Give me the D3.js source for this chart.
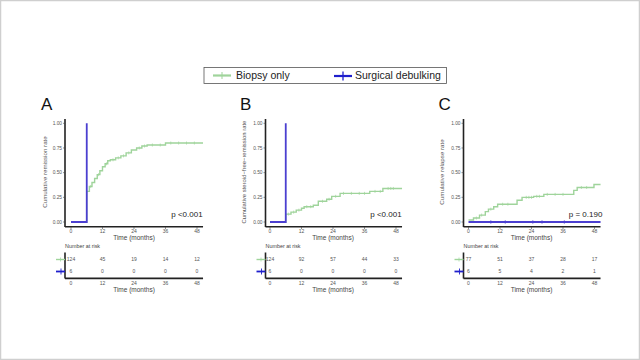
<!DOCTYPE html>
<html><head><meta charset="utf-8">
<script src="https://cdn.jsdelivr.net/npm/d3@7/dist/d3.min.js"></script>
<style>
html,body{margin:0;padding:0;background:#fff;}
svg{display:block;font-family:"Liberation Sans",Arial,sans-serif;}
</style></head><body>
<svg id="c" width="640" height="360"></svg>
<script>
// ---- data ----
const seriesNames = ["Biopsy only", "Surgical debulking"];
const panelLabels = ["A", "B", "C"];
const yTitles = ["Cumulative remission rate", "Cumulative steroid\u2212free\u2212remission rate", "Cumulative relapse rate"];
const pValues = ["p <0.001", "p <0.001", "p = 0.190"];
const xTicks = [0, 12, 24, 36, 48];
const yTicks = [0, 0.25, 0.5, 0.75, 1.0];

// green (biopsy) step curves: [time, value]
const biopsyA = [[0,0],[6,0.31],[7,0.36],[8,0.40],[9,0.44],[10,0.48],[11,0.52],[12,0.56],[13,0.59],[14,0.62],[15,0.63],[17,0.65],[19,0.67],[21,0.70],[23,0.73],[25,0.75],[27,0.77],[29,0.78],[36,0.80],[50.3,0.80]];
const biopsyB = [[0,0],[6,0.08],[8,0.10],[10,0.12],[12,0.14],[13,0.155],[16.5,0.17],[18.4,0.21],[21.6,0.23],[23.5,0.26],[26.7,0.29],[38,0.31],[43,0.34],[50.3,0.34]];
const biopsyC = [[0,0.02],[1.9,0.04],[4.2,0.07],[6.4,0.105],[7.6,0.13],[9.6,0.155],[11.1,0.18],[18.5,0.22],[20.4,0.25],[24.8,0.26],[28.7,0.28],[40.1,0.32],[41.4,0.35],[47.8,0.38],[50.3,0.38]];
// blue (surgical) step curves
const surgA = [[0,0],[6,1.0]];
const surgB = [[0,0],[6,1.0]];
const surgC = [[0,0],[50.3,0]];
// censor marks (times)
const censorBiopsyA = [7.5,10.5,13.5,16,18,20,22,26,28,31,34,38,41,44,47];
const censorBiopsyB = [7,9,11,14,15.5,20,22.5,25,28,31,34,36,40,42,45,46,47];
const censorBiopsyC = [3,5,8.5,13,15,22,23,24,26,27,30,33,36,43,45];
const censorSurgC = [8.5,14,24.5,28,36.5];
// numbers at risk
const riskBiopsy = [[124,45,19,14,12],[124,92,57,44,33],[77,51,37,28,17]];
const riskSurg = [[6,0,0,0,0],[6,0,0,0,0],[6,5,4,2,1]];

const biopsy = [biopsyA, biopsyB, biopsyC];
const surg = [surgA, surgB, surgC];
const censB = [censorBiopsyA, censorBiopsyB, censorBiopsyC];
const censS = [[], [], censorSurgC];

// ---- layout ----
const GREEN = "#9fd49b", BLUE = "#4b3fd0", BLUE2 = "#1f1fcc";
const svg = d3.select("#c");
svg.append("rect").attr("x",0.5).attr("y",0.5).attr("width",639).attr("height",359)
  .attr("fill","#fff").attr("stroke","#cfcfcf").attr("stroke-width",1.5);

// legend
const lg = svg.append("g");
lg.append("rect").attr("x",204).attr("y",67.5).attr("width",242.5).attr("height",16)
  .attr("fill","#fff").attr("stroke","#555").attr("stroke-width",0.8);
lg.append("line").attr("x1",213).attr("x2",231).attr("y1",75.5).attr("y2",75.5).attr("stroke",GREEN).attr("stroke-width",2.2);
lg.append("line").attr("x1",222).attr("x2",222).attr("y1",72).attr("y2",79).attr("stroke",GREEN).attr("stroke-width",1);
lg.append("text").attr("x",236).attr("y",79).attr("font-size",10.5).attr("fill","#222").text(seriesNames[0]);
lg.append("line").attr("x1",334).attr("x2",352).attr("y1",76).attr("y2",76).attr("stroke",BLUE2).attr("stroke-width",2.2);
lg.append("line").attr("x1",343).attr("x2",343).attr("y1",71.5).attr("y2",80.5).attr("stroke",BLUE2).attr("stroke-width",1.3);
lg.append("text").attr("x",355).attr("y",79).attr("font-size",10.5).attr("fill","#222").text(seriesNames[1]);

const lefts = [71, 270, 468.5];
const axisOff = [6, 4.5, 5];

lefts.forEach((L, i) => {
  const x = d3.scaleLinear().domain([0,48]).range([L, L+126]);
  const y = d3.scaleLinear().domain([0,1]).range([222, 123.3]);
  const ax = L - axisOff[i];
  const g = svg.append("g");

  // panel label
  g.append("text").attr("x", L-30).attr("y",110).attr("font-size",17).attr("fill","#111").text(panelLabels[i]);

  // axes
  g.append("line").attr("x1",ax).attr("x2",ax).attr("y1",119).attr("y2",227).attr("stroke","#222").attr("stroke-width",1.6);
  g.append("line").attr("x1",ax).attr("x2",x(50.3)).attr("y1",226.8).attr("y2",226.8).attr("stroke","#222").attr("stroke-width",1.6);
  yTicks.forEach(t => {
    g.append("line").attr("x1",ax-2).attr("x2",ax).attr("y1",y(t)).attr("y2",y(t)).attr("stroke","#444").attr("stroke-width",0.6);
    g.append("text").attr("x",ax-3).attr("y",y(t)+1.7).attr("text-anchor","end").attr("font-size",4.8).attr("fill","#555").text(t.toFixed(2));
  });
  xTicks.forEach(t => {
    g.append("line").attr("x1",x(t)).attr("x2",x(t)).attr("y1",227).attr("y2",229).attr("stroke","#444").attr("stroke-width",0.6);
    g.append("text").attr("x",x(t)).attr("y",233).attr("text-anchor","middle").attr("font-size",5).attr("fill","#555").text(t);
  });
  g.append("text").attr("x",x(24)).attr("y",239.5).attr("text-anchor","middle").attr("font-size",6.5).attr("fill","#444").text("Time (months)");
  g.append("text").attr("transform",`translate(${L-24.5},${172}) rotate(-90)`).attr("text-anchor","middle")
    .attr("font-size",i===1?5.9:6.2).attr("fill","#555").text(yTitles[i]);
  g.append("text").attr("x",x(38.2)).attr("y",216.5).attr("font-size",8).attr("fill","#222").text(pValues[i]);

  const line = d3.line().x(d=>x(d[0])).y(d=>y(d[1])).curve(d3.curveStepAfter);
  const stepVal = (arr, t) => { let v = arr[0][1]; arr.forEach(d=>{ if (d[0] <= t) v = d[1]; }); return v; };

  // green curve
  g.append("path").attr("d", line(biopsy[i])).attr("fill","none").attr("stroke",GREEN).attr("stroke-width",1.4);
  censB[i].forEach(t => {
    const v = stepVal(biopsy[i], t);
    g.append("line").attr("x1",x(t)).attr("x2",x(t)).attr("y1",y(v)-1.5).attr("y2",y(v)+1.5).attr("stroke",GREEN).attr("stroke-width",0.7);
  });
  // blue curve
  g.append("path").attr("d", line(surg[i])).attr("fill","none").attr("stroke",BLUE).attr("stroke-width",1.8);
  censS[i].forEach(t => {
    g.append("line").attr("x1",x(t)).attr("x2",x(t)).attr("y1",y(0)-1.7).attr("y2",y(0)+1.7).attr("stroke",BLUE).attr("stroke-width",0.8);
  });

  // risk table
  g.append("text").attr("x",ax).attr("y",248).attr("font-size",5.4).attr("fill","#444").text("Number at risk");
  g.append("line").attr("x1",ax).attr("x2",ax).attr("y1",252.5).attr("y2",278.5).attr("stroke","#222").attr("stroke-width",1.6);
  g.append("line").attr("x1",ax).attr("x2",x(50.3)).attr("y1",278.4).attr("y2",278.4).attr("stroke","#222").attr("stroke-width",1.6);
  g.append("line").attr("x1",ax-9).attr("x2",ax).attr("y1",259.5).attr("y2",259.5).attr("stroke",GREEN).attr("stroke-width",1.4);
  g.append("line").attr("x1",ax-4.5).attr("x2",ax-4.5).attr("y1",257.5).attr("y2",261.5).attr("stroke",GREEN).attr("stroke-width",0.7);
  g.append("line").attr("x1",ax-9).attr("x2",ax).attr("y1",271.5).attr("y2",271.5).attr("stroke",BLUE2).attr("stroke-width",1.8);
  g.append("line").attr("x1",ax-4).attr("x2",ax-4).attr("y1",268.5).attr("y2",274.5).attr("stroke",BLUE2).attr("stroke-width",0.9);
  xTicks.forEach((t, j) => {
    g.append("text").attr("x",x(t)).attr("y",261.4).attr("text-anchor","middle").attr("font-size",5).attr("fill","#555").text(riskBiopsy[i][j]);
    g.append("text").attr("x",x(t)).attr("y",273.4).attr("text-anchor","middle").attr("font-size",5).attr("fill","#555").text(riskSurg[i][j]);
    g.append("text").attr("x",x(t)).attr("y",284.5).attr("text-anchor","middle").attr("font-size",5).attr("fill","#555").text(t);
  });
  g.append("text").attr("x",x(24)).attr("y",291.5).attr("text-anchor","middle").attr("font-size",6.5).attr("fill","#444").text("Time (months)");
});
</script>
</body></html>
